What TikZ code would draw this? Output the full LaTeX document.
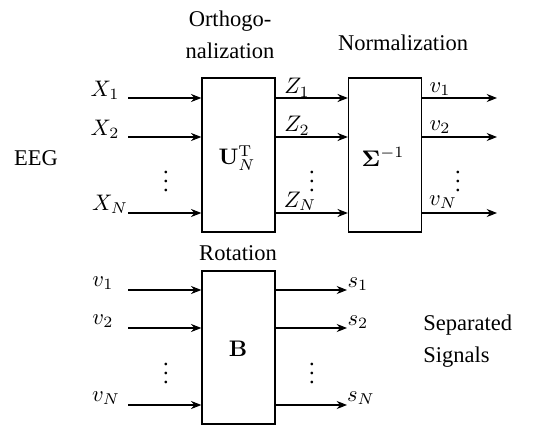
\documentclass[tikz,border=0pt]{standalone}
\usepackage[no-math]{fontspec}
\setmainfont{Liberation Serif}
\usetikzlibrary{arrows.meta}
\begin{document}
\begin{tikzpicture}[x=0.4444pt,y=-0.4444pt,
  blk/.style={draw,line width=0.6pt,minimum width=73*0.4444pt,inner sep=0pt},
  arr/.style={line width=0.45pt,-{Stealth[length=4.6pt,width=3.6pt]}},
  lbl/.style={inner sep=0pt,font=\normalsize}]
\useasboundingbox (0,0) rectangle (548,428);
% blocks
\node[blk,minimum height=154*0.4444pt] (U) at (238.5,155) {};
\node[blk,minimum height=154*0.4444pt] (S) at (385,155) {};
\node[blk,minimum height=153*0.4444pt] (B) at (238.5,347.5) {};
\node[lbl] (Ut) at (237,158) {$\mathbf{U}_N^{\mathrm{T}}$};
\node[lbl] (St) at (383,157) {$\mathbf{\Sigma}^{-1}$};
\node[lbl] (Bt) at (238,349) {$\mathbf{B}$};
% titles
\node[lbl,align=center] (t1) at (230,35) {Orthogo-\\[2pt]nalization};
\node[lbl] (t2) at (403,43) {Normalization};
\node[lbl] (t3) at (238,253) {Rotation};
\node[lbl] (eeg) at (36,158) {EEG};
\node[lbl,align=left,anchor=west] (sep) at (423,341) {Separated\\[2pt]Signals};
% free ends
\coordinate (x1) at (128,98);
\coordinate (x2) at (128,137);
\coordinate (xn) at (128,213);
\coordinate (o1) at (497,98);
\coordinate (o2) at (497,137);
\coordinate (on) at (497,213);
\coordinate (b1) at (128,290);
\coordinate (b2) at (128,328);
\coordinate (bn) at (128,405);
\coordinate (r1) at (347,290);
\coordinate (r2) at (347,328);
\coordinate (rn) at (347,405);
% arrows top
\draw[arr] (x1) -- (x1 -| U.west);
\draw[arr] (x2) -- (x2 -| U.west);
\draw[arr] (xn) -- (xn -| U.west);
\draw[arr] (x1 -| U.east) -- (x1 -| S.west);
\draw[arr] (x2 -| U.east) -- (x2 -| S.west);
\draw[arr] (xn -| U.east) -- (xn -| S.west);
\draw[arr] (o1 -| S.east) -- (o1);
\draw[arr] (o2 -| S.east) -- (o2);
\draw[arr] (on -| S.east) -- (on);
% arrows bottom
\draw[arr] (b1) -- (b1 -| B.west);
\draw[arr] (b2) -- (b2 -| B.west);
\draw[arr] (bn) -- (bn -| B.west);
\draw[arr] (r1 -| B.east) -- (r1);
\draw[arr] (r2 -| B.east) -- (r2);
\draw[arr] (rn -| B.east) -- (rn);
% labels top
\node[lbl] (lx1) at (105,90) {$X_1$};
\node[lbl] (lx2) at (105,129) {$X_2$};
\node[lbl] (lxn) at (110,204) {$X_N$};
\node[lbl] (lz1) at (297,88) {$Z_1$};
\node[lbl] (lz2) at (297,126) {$Z_2$};
\node[lbl] (lzn) at (300,201) {$Z_N$};
\node[lbl] (lv1) at (440,89) {$v_1$};
\node[lbl] (lv2) at (440,127) {$v_2$};
\node[lbl] (lvn) at (443,202) {$v_N$};
% labels bottom
\node[lbl] (mv1) at (103,283) {$v_1$};
\node[lbl] (mv2) at (103,321) {$v_2$};
\node[lbl] (mvn) at (106,398) {$v_N$};
\node[lbl] (s1) at (358,284) {$s_1$};
\node[lbl] (s2) at (358,322) {$s_2$};
\node[lbl] (sn) at (361,398) {$s_N$};
% dots
\node[lbl] (d1) at (166,175) {$\vdots$};
\node[lbl] (d2) at (312,175) {$\vdots$};
\node[lbl] (d3) at (458,175) {$\vdots$};
\node[lbl] (d4) at (166,367) {$\vdots$};
\node[lbl] (d5) at (312,367) {$\vdots$};
\end{tikzpicture}
\end{document}
